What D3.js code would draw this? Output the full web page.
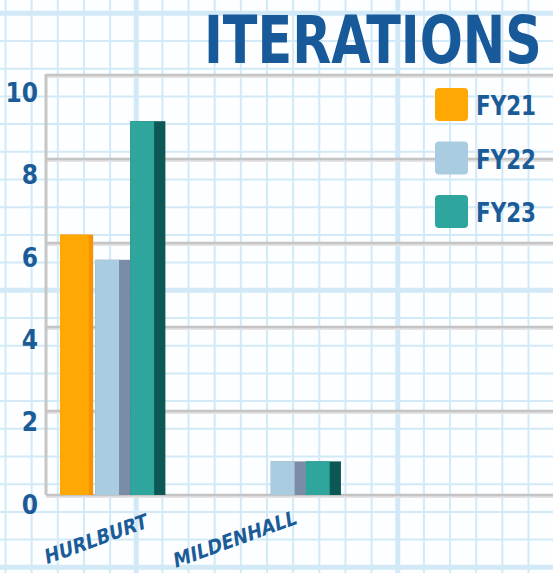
<!DOCTYPE html>
<html>
<head>
<meta charset="utf-8">
<script src="https://cdn.jsdelivr.net/npm/d3@7"></script>
<style>
  html, body { margin: 0; padding: 0; background: #fdfeff; }
  svg { display: block; }
  text { font-family: "DejaVu Sans Condensed", "DejaVu Sans", sans-serif; font-weight: bold; }
</style>
</head>
<body>
<div id="chart"></div>
<script>
// chart data
var categories = ['HURLBURT', 'MILDENHALL'];
var seriesNames = ['FY21', 'FY22', 'FY23'];
var fy21 = [6.2, 0];
var fy22 = [5.6, 0.8];
var fy23 = [8.9, 0.8];
var yTicks = [0, 2, 4, 6, 8, 10];
var title = 'ITERATIONS';

var frontColors = ['#ffa703', '#a9cce0', '#2fa69d'];
var sideColors = ['#f59300', '#7b8da6', '#0c5855'];
var textColor = '#1b5c98';

var W = 553, H = 573;
var svg = d3.select('#chart').append('svg').attr('width', W).attr('height', H);

// graph paper background
var paper = svg.append('g');
var vx = d3.range(5.5, W, 26.15), hy = d3.range(13.3 - 27.7, H, 27.7);
paper.selectAll('.vl').data(vx).enter().append('line')
  .attr('x1', function (d) { return d; }).attr('x2', function (d) { return d; })
  .attr('y1', 0).attr('y2', H)
  .attr('stroke', '#d2e9f7')
  .attr('stroke-width', function (d, i) { return i % 10 === 5 ? 5 : 2; });
paper.selectAll('.hl').data(hy).enter().append('line')
  .attr('y1', function (d) { return d; }).attr('y2', function (d) { return d; })
  .attr('x1', 0).attr('x2', W)
  .attr('stroke', '#d2e9f7')
  .attr('stroke-width', function (d, i) { return i % 10 === 1 ? 5 : 2; });

// scales
var y = d3.scaleLinear().domain([0, 10]).range([495, 75]);
var yLab = d3.scaleLinear().domain([0, 10]).range([505, 93]);
var x0 = d3.scaleBand().domain(categories).range([46, 355]).paddingInner(0.4).paddingOuter(0.08);
var x1 = d3.scaleBand().domain(seriesNames).range([0, x0.bandwidth()]).padding(0);

// gridlines
var grid = svg.append('g');
grid.selectAll('line').data(yTicks).enter().append('line')
  .attr('x1', 46).attr('x2', W)
  .attr('y1', function (d) { return y(d) + 1.5; }).attr('y2', function (d) { return y(d) + 1.5; })
  .attr('stroke', '#e4e4e4').attr('stroke-width', 3);
grid.selectAll('.g2').data(yTicks).enter().append('line')
  .attr('x1', 46).attr('x2', W)
  .attr('y1', function (d) { return y(d); }).attr('y2', function (d) { return y(d); })
  .attr('stroke', '#c4c4c4').attr('stroke-width', 2.5);
svg.append('line')
  .attr('x1', 46).attr('x2', 46).attr('y1', y(10) - 1).attr('y2', y(0))
  .attr('stroke', '#c6c6c6').attr('stroke-width', 3);

// y tick labels (sit a little below their gridline)
var yAxis = svg.append('g')
  .attr('transform', 'translate(38,0)')
  .call(d3.axisLeft(yLab).tickValues(yTicks).tickSize(0).tickPadding(0));
yAxis.select('.domain').remove();
yAxis.selectAll('text')
  .attr('fill', textColor)
  .style('font-size', '26px')
  .style('font-family', '"DejaVu Sans Condensed", "DejaVu Sans", sans-serif')
  .style('font-weight', 'bold');

// bars
var rows = categories.map(function (c, i) {
  return { cat: c, vals: [fy21[i], fy22[i], fy23[i]] };
});
var groups = svg.selectAll('.grp').data(rows).enter().append('g')
  .attr('transform', function (d) { return 'translate(' + x0(d.cat) + ',0)'; });
var bars = groups.selectAll('g').data(function (d) {
  return d.vals.map(function (v, k) { return { s: seriesNames[k], k: k, v: v }; });
}).enter().append('g').filter(function (d) { return d.v > 0; });
var bw = x1.bandwidth();
bars.append('rect')
  .attr('x', function (d) { return x1(d.s); })
  .attr('y', function (d) { return y(d.v); })
  .attr('width', function (d) { return d.k === 0 ? bw - 2 : bw; })
  .attr('height', function (d) { return y(0) - y(d.v); })
  .attr('fill', function (d) { return sideColors[d.k]; });
bars.append('rect')
  .attr('x', function (d) { return x1(d.s); })
  .attr('y', function (d) { return y(d.v); })
  .attr('width', function (d) { return bw * (d.k === 0 ? 0.82 : 0.68); })
  .attr('height', function (d) { return y(0) - y(d.v); })
  .attr('fill', function (d) { return frontColors[d.k]; });

// x labels, rotated
var lx = d3.scalePoint().domain(categories).range([97, 236]);
svg.selectAll('.xl').data(categories).enter().append('text')
  .attr('transform', function (d) { return 'translate(' + lx(d) + ',546) rotate(-20) skewX(-12)'; })
  .attr('text-anchor', 'middle')
  .attr('fill', textColor)
  .style('font-size', '20px')
  .text(function (d) { return d; });

// legend
var legend = svg.selectAll('.lg').data(seriesNames).enter().append('g')
  .attr('transform', function (d, i) { return 'translate(435,' + (88 + i * 53.5) + ')'; });
legend.append('rect')
  .attr('width', 33).attr('height', 33).attr('rx', 4)
  .attr('fill', function (d, i) { return frontColors[i]; });
legend.append('text')
  .attr('x', 41).attr('y', 27)
  .attr('textLength', 60).attr('lengthAdjust', 'spacingAndGlyphs')
  .attr('fill', textColor)
  .style('font-size', '26px')
  .text(function (d) { return d; });

// title: measured at a small size, then stretched tall and narrow
var titleText = svg.append('text')
  .attr('x', 0).attr('y', 0)
  .attr('fill', '#18599a')
  .style('font-size', '40px')
  .text(title);
var tw = titleText.node().getComputedTextLength();
var sx = 338 / tw, sy = 66 / 40;
titleText.attr('transform', 'translate(204,63) scale(' + sx + ',' + sy + ')');
</script>
</body>
</html>
